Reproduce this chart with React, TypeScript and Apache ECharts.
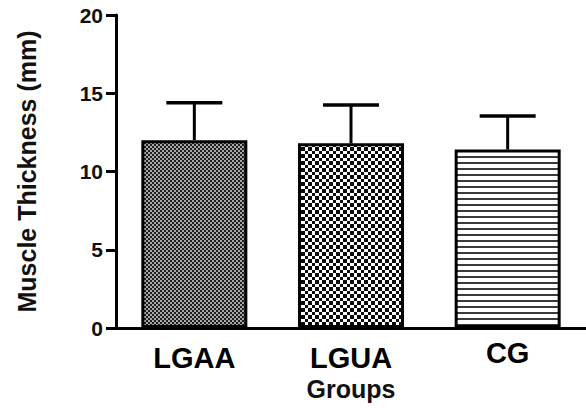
import React, { useEffect, useRef } from "react";
import * as echarts from "echarts";

const categories = ["LGAA", "LGUA", "CG"];
const means = [12.0, 11.8, 11.4];
const upperErrors = [14.4, 14.25, 13.55];
const yTicks = [0, 5, 10, 15, 20];

const FONT = '"Liberation Sans", Arial, Helvetica, sans-serif';

function makeTile(size: number, draw: (ctx: CanvasRenderingContext2D) => void) {
  const c = document.createElement("canvas");
  c.width = size;
  c.height = size;
  const ctx = c.getContext("2d")!;
  draw(ctx);
  return { image: c, repeat: "repeat", imageWidth: size, imageHeight: size } as any;
}

function buildPatterns() {
  const fine = makeTile(4, (ctx) => {
    ctx.fillStyle = "#1e1e1e";
    ctx.fillRect(0, 0, 4, 4);
    ctx.fillStyle = "#a8a8a8";
    ctx.fillRect(0, 0, 2, 2);
    ctx.fillRect(2, 2, 2, 2);
  });
  const coarse = makeTile(14, (ctx) => {
    ctx.fillStyle = "#ffffff";
    ctx.fillRect(0, 0, 14, 14);
    ctx.fillStyle = "#0a0a0a";
    const edges = [0, 4, 7, 11, 14];
    for (let i = 0; i < 4; i++) {
      for (let j = 0; j < 4; j++) {
        if ((i + j) % 2 === 0) {
          ctx.fillRect(edges[i], edges[j], edges[i + 1] - edges[i], edges[j + 1] - edges[j]);
        }
      }
    }
  });
  const stripes = makeTile(6, (ctx) => {
    ctx.fillStyle = "#ffffff";
    ctx.fillRect(0, 0, 6, 6);
    ctx.fillStyle = "#3a3a3a";
    ctx.fillRect(0, 0, 6, 2);
  });
  return [fine, coarse, stripes];
}

export default function App() {
  const ref = useRef<HTMLDivElement>(null);
  useEffect(() => {
    if (!ref.current) return;
    const chart = echarts.init(ref.current, null, { renderer: "svg" });
    const patterns = buildPatterns();
    const option: any = {
      animation: false,
      backgroundColor: "#ffffff",
      grid: { left: 116, right: 0, top: 15, bottom: 80 },
      xAxis: {
        type: "category",
        data: categories.map((c, i) =>
          i === 2 ? { value: c, textStyle: { lineHeight: 20 } } : c
        ),
        name: "Groups",
        nameLocation: "middle",
        nameGap: 47,
        nameTextStyle: { fontFamily: FONT, fontWeight: "bold", fontSize: 25, color: "#111" },
        axisLine: { lineStyle: { color: "#000", width: 3 } },
        axisTick: { alignWithLabel: true, length: 9, lineStyle: { color: "#000", width: 3 } },
        axisLabel: { fontFamily: FONT, fontWeight: "bold", fontSize: 29, color: "#000", margin: 15 },
      },
      yAxis: {
        type: "value",
        min: yTicks[0],
        max: yTicks[yTicks.length - 1],
        interval: 5,
        name: "Muscle Thickness (mm)",
        nameLocation: "middle",
        nameRotate: 90,
        nameGap: 77,
        nameTextStyle: { fontFamily: FONT, fontWeight: "bold", fontSize: 25, color: "#111" },
        axisLine: { show: true, lineStyle: { color: "#000", width: 3 } },
        axisTick: { show: true, length: 10, lineStyle: { color: "#000", width: 3 } },
        axisLabel: { fontFamily: FONT, fontWeight: "bold", fontSize: 21, color: "#111", margin: 13 },
        splitLine: { show: false },
      },
      series: [
        {
          type: "bar",
          barWidth: 106,
          data: means.map((v, i) => ({
            value: v,
            itemStyle: { color: patterns[i], borderColor: "#000", borderWidth: 3 },
          })),
          z: 2,
        },
        {
          type: "custom",
          z: 3,
          data: means.map((m, i) => [i, m, upperErrors[i]]),
          renderItem: (params: any, api: any) => {
            const idx = api.value(0);
            const base = api.coord([idx, api.value(1)]);
            const top = api.coord([idx, api.value(2)]);
            const half = 28;
            return {
              type: "group",
              children: [
                {
                  type: "line",
                  shape: { x1: base[0], y1: base[1], x2: top[0], y2: top[1] },
                  style: { stroke: "#000", lineWidth: 3 },
                },
                {
                  type: "line",
                  shape: { x1: top[0] - half, y1: top[1], x2: top[0] + half, y2: top[1] },
                  style: { stroke: "#000", lineWidth: 3.5 },
                },
              ],
            };
          },
        },
      ],
    };
    chart.setOption(option);
    return () => chart.dispose();
  }, []);
  return (
    <div
      ref={ref}
      style={{ position: "absolute", left: 0, top: 0, width: 586, height: 408 }}
    />
  );
}
